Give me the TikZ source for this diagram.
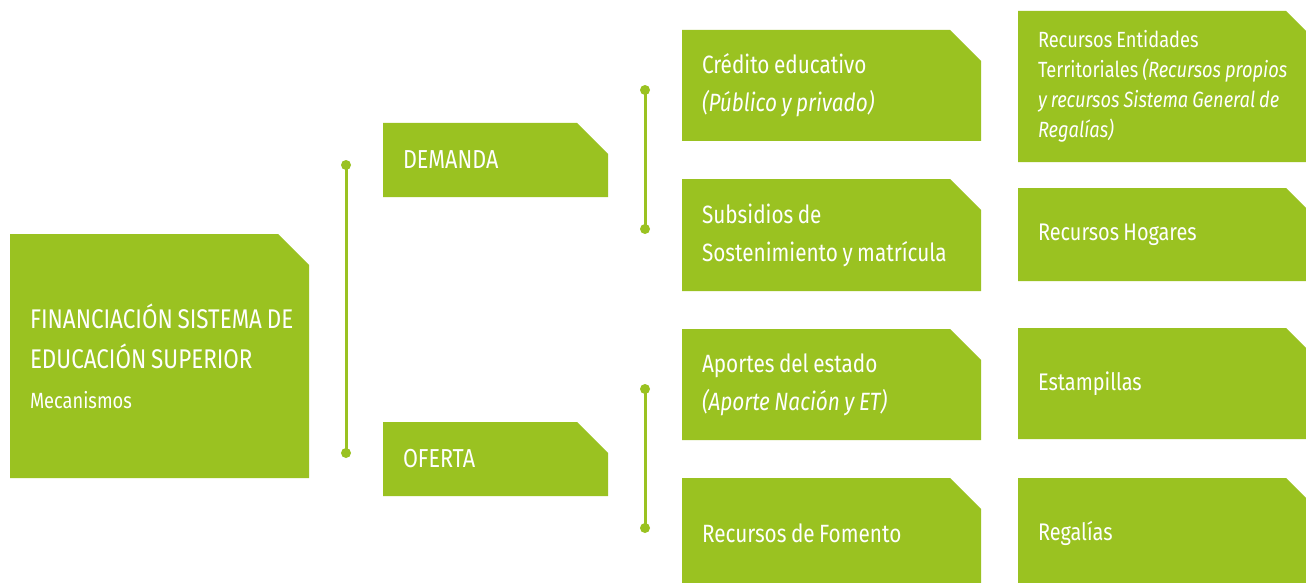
\documentclass[tikz,border=0pt]{standalone}
\usepackage{fontspec}
\newfontfamily\cf{Fira Sans}[FakeStretch=0.83]
\usetikzlibrary{calc}
\definecolor{lime}{HTML}{9AC221}
\newcommand\ns{\spaceskip=.18em\relax\xspaceskip=.18em\relax\hyphenpenalty=10000\relax}
\tikzset{
  box/.style={anchor=north west, inner xsep=20pt, inner ysep=0pt, outer sep=0pt,
    align=left, text=white,
    path picture={\fill[lime] (path picture bounding box.south west) -- (path picture bounding box.north west)
      -- ($(path picture bounding box.north east)+(-31pt,0pt)$) -- ($(path picture bounding box.north east)+(0pt,-31pt)$)
      -- (path picture bounding box.south east) -- cycle;}},
  bw/.style={minimum width=299pt, text width=259pt},
  sw/.style={minimum width=225pt, text width=185pt},
  fmain/.style={font=\cf\fontsize{27}{40}\selectfont},
  fsec/.style={font=\cf\fontsize{26}{38}\selectfont},
  fmid/.style={font=\cf\fontsize{25}{38}\selectfont},
  fone/.style={font=\cf\fontsize{24}{36}\selectfont},
  fsmall/.style={font=\cf\fontsize{22}{30}\selectfont},
  bracket/.style={draw=lime, line width=3pt},
  dot/.style={fill=lime}
}
\begin{document}
\begin{tikzpicture}[x=1pt,y=-1pt]
\useasboundingbox (0,0) rectangle (1306,583);
\clip (0,0) rectangle (1306,583);
% main
\node[box,bw,fmain,minimum height=244pt] (main) at (10,234)
  {\ns\mbox{FINANCIACIÓN SISTEMA DE}\\\mbox{EDUCACIÓN SUPERIOR}\\{\fontsize{22}{30}\selectfont Mecanismos}};
% second level
\node[box,sw,fsec,minimum height=74pt] (dem) at (383,123) {\ns DEMANDA};
\node[box,sw,fsec,minimum height=74pt] (ofe) at (383,422) {\ns OFERTA};
% third level
\node[box,bw,fmid,minimum height=111pt] (cre) at (682,30)
  {\ns Crédito educativo\\\textit{(Público y privado)}};
\node[box,bw,fmid,minimum height=112pt] (sub) at (682,179)
  {\ns Subsidios de\\\mbox{Sostenimiento y matrícula}};
\node[box,bw,fmid,minimum height=111pt] (apo) at (682,329)
  {\ns Aportes del estado\\\textit{(Aporte Nación y ET)}};
\node[box,bw,fmid,minimum height=111pt] (fom) at (682,478)
  {\ns Recursos de Fomento};
% fourth column
\node[box,bw,fsmall,minimum height=151pt] (ent) at (1018,11)
  {\ns Recursos Entidades\\\mbox{Territoriales \textit{(Recursos propios}}\\\mbox{\textit{y recursos Sistema General de}}\\\textit{Regalías)}};
\node[box,bw,fone,minimum height=93pt] (hog) at (1018,188) {\ns Recursos Hogares};
\node[box,bw,fone,minimum height=111pt] (est) at (1018,328) {\ns Estampillas};
\node[box,bw,fone,minimum height=111pt] (reg) at (1018,478) {\ns Regalías};
% brackets
\coordinate (a1) at (346,165); \coordinate (a2) at (346,453);
\coordinate (b1) at (645,90);  \coordinate (b2) at (645,229);
\coordinate (c1) at (645,389); \coordinate (c2) at (645,528);
\foreach \p/\q in {a1/a2,b1/b2,c1/c2}{
  \draw[bracket] (\p) -- (\q);
  \fill[dot] (\p) circle (5pt);
  \fill[dot] (\q) circle (5pt);
}
\end{tikzpicture}
\end{document}
